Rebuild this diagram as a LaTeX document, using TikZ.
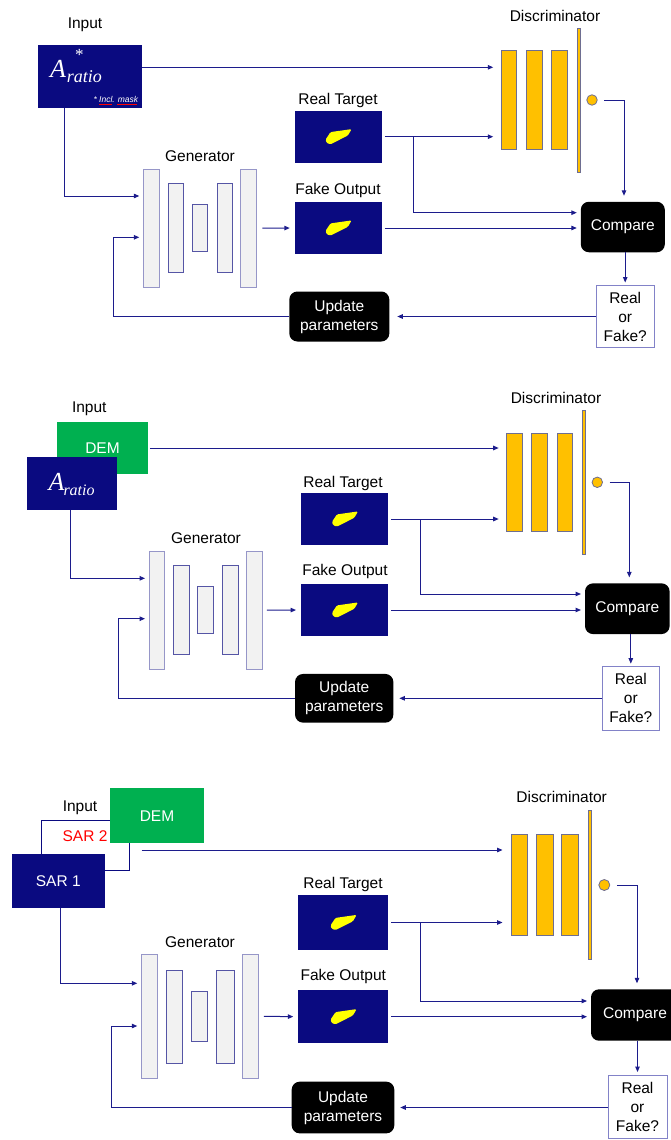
\documentclass[tikz,border=0pt]{standalone}
\usepackage{fontspec}
\setmainfont{Liberation Sans}
\newfontfamily\timesf{Liberation Serif}
\usetikzlibrary{arrows.meta}

\definecolor{navy}{RGB}{10,10,128}
\definecolor{wire}{RGB}{28,28,140}
\definecolor{demgreen}{RGB}{0,176,80}
\definecolor{amber}{RGB}{255,192,0}
\definecolor{amberline}{RGB}{110,110,145}
\definecolor{barfill}{RGB}{242,242,242}
\definecolor{barline}{RGB}{150,150,200}
\definecolor{barlinedk}{RGB}{85,85,165}
\definecolor{rfline}{RGB}{130,130,200}
\definecolor{blobc}{RGB}{255,255,0}

\newcommand\lblfont{\fontsize{15.5}{19}\selectfont}
% yellow target shape drawn inside an image tile
\newcommand\gblob[1]{\fill[blobc, rounded corners=1.2pt, shift={(#1.center)}]
  (-12.7,2.8) -- (-7.8,-4.6) -- (13.3,-7.6) -- (9.6,-1.2) -- (-7.8,7.6) -- (-11.7,6.2) -- cycle;}

\tikzset{
  box/.style={inner sep=0pt, outer sep=0pt},
  lbl/.style={inner sep=0pt, font=\lblfont},
  navybox/.style={box, fill=navy, text=white, font=\lblfont},
  demstyle/.style={box, fill=demgreen, text=white, font=\lblfont},
  img/.style={box, fill=navy},
  genout/.style={box, fill=barfill, draw=barline, line width=1pt},
  genin/.style={box, fill=barfill, draw=barlinedk, line width=0.8pt},
  disc/.style={box, fill=amber, draw=amberline, line width=0.8pt},
  blackbox/.style={box, fill=black, rounded corners=8pt, text=white, align=center, font=\lblfont},
  rfbox/.style={box, fill=white, draw=rfline, line width=0.8pt, align=center, font=\lblfont},
  bigA/.style={inner sep=0pt, anchor=base west, text=white, font=\timesf\itshape\fontsize{26}{26}\selectfont},
  subr/.style={inner sep=0pt, anchor=base west, text=white, font=\timesf\itshape\fontsize{#1}{#1}\selectfont},
  arr/.style={draw=wire, line width=1pt, -{Triangle[length=5.5pt,width=4.5pt]}, shorten >=4pt},
}

\begin{document}
\begin{tikzpicture}[x=1pt,y=-1pt]
\useasboundingbox (0,0) rectangle (671,1140);
\fill[white] (0,0) rectangle (671,1140);
\clip (0,0) rectangle (671,1140);

%% ---------------- First network: ratio input ----------------
\node[lbl] (in1lbl) at (85,25) {Input};
\node[navybox, minimum width=104pt, minimum height=63pt] (in1) at (90.3,76.5) {};
\node[bigA] (in1a) at (50,77.7) {A};
\node[inner sep=0pt, text=white, font=\timesf\fontsize{17}{17}\selectfont] (in1s) at (79.3,55) {*};
\node[subr=18] (in1r) at (66.7,82.7) {ratio};
\node[inner sep=0pt, anchor=base west, text=white, font=\fontsize{8.5}{10}\selectfont\itshape] (in1m) at (93.3,102) {* Incl. mask};
\draw[red, line width=0.6pt] (99,104.5) -- (112,104.5) (117,104.5) -- (137,104.5);

\node[lbl] (gen1lbl) at (200,156) {Generator};
\node[genout, minimum width=16pt, minimum height=118pt] (g1a) at (151.3,228.2) {};
\node[genin, minimum width=15pt, minimum height=89pt] (g1b) at (175.8,228) {};
\node[genin, minimum width=15pt, minimum height=47pt] (g1c) at (200,227.8) {};
\node[genin, minimum width=15pt, minimum height=89pt] (g1d) at (224.5,228) {};
\node[genout, minimum width=16pt, minimum height=118pt] (g1e) at (248.3,228.2) {};

\node[lbl] (rt1lbl) at (338,100) {Real Target};
\node[img, minimum width=87pt, minimum height=52pt] (r1) at (338.3,136.7) {};
\gblob{r1}
\node[lbl] (fo1lbl) at (338,190) {Fake Output};
\node[img, minimum width=87pt, minimum height=52pt] (f1) at (338.3,228) {};
\gblob{f1}

\node[lbl] (dis1lbl) at (555,16) {Discriminator};
\node[disc, minimum width=15.5pt, minimum height=98.5pt] (d1a) at (509,100) {};
\node[disc, minimum width=15.5pt, minimum height=98.5pt] (d1b) at (534.3,100) {};
\node[disc, minimum width=16pt, minimum height=98.5pt] (d1c) at (559.5,100) {};
\node[disc, minimum width=3pt, minimum height=144pt] (d1t) at (578.5,100.3) {};
\node[disc, circle, minimum size=10.5pt] (o1) at (592,100) {};

\node[blackbox, minimum width=84pt, minimum height=50.5pt] (c1) at (622.8,227) {Compare};
\node[rfbox, minimum width=58pt, minimum height=62pt] (q1) at (625.2,316.5) {Real\\or\\Fake?};
\node[blackbox, minimum width=100pt, minimum height=50pt] (u1) at (339.3,316.5) {Update\\parameters};

\draw[arr, shorten >=8pt] (in1.east |- 0,67.3) -- (d1a.west |- 0,67.3);
\coordinate (k1) at (64.3,196);
\draw[arr] (in1.south -| k1) -- (k1) -- (g1a.west |- k1);
\draw[arr, shorten >=8pt] ([xshift=3pt]r1.east) -- (d1a.west |- r1.east);
\coordinate (b1) at (413,212.7);
\draw[arr] (b1 |- r1.east) -- (b1) -- (c1.west |- b1);
\draw[arr] ([xshift=3pt]f1.east) -- (c1.west |- f1.east);
\draw[arr, shorten >=5pt] ([xshift=6pt]g1e.east) -- (f1.west);
\coordinate (t1) at (624,100);
\draw[arr, shorten >=6pt] ([xshift=7pt]o1.east) -- (t1) -- (t1 |- c1.north);
\draw[arr, shorten >=3pt] (c1.south -| q1.north) -- (q1.north);
\draw[arr, shorten >=8pt] (q1.west) -- (u1.east);
\coordinate (p1) at (113.3,237.3);
\draw[arr] (u1.west) -| (p1) -- (g1a.west |- p1);

%% ---------------- Second network: DEM + ratio ----------------
\node[lbl] (in2lbl) at (89.3,408.3) {Input};
\node[demstyle, minimum width=90.5pt, minimum height=52.5pt] (dem2) at (102.5,448) {DEM};
\node[navybox, minimum width=90.5pt, minimum height=53pt] (in2) at (72,483.5) {};
\node[bigA] (in2a) at (48.3,490) {A};
\node[subr=16] (in2r) at (63.3,495.7) {ratio};

\node[lbl] (gen2lbl) at (206,538.3) {Generator};
\node[genout, minimum width=15.3pt, minimum height=118.3pt] (g2a) at (156.7,610.2) {};
\node[genin, minimum width=16pt, minimum height=89.4pt] (g2b) at (181.3,610) {};
\node[genin, minimum width=16pt, minimum height=46.6pt] (g2c) at (205.3,610) {};
\node[genin, minimum width=15.7pt, minimum height=89.4pt] (g2d) at (230.2,610) {};
\node[genout, minimum width=15.6pt, minimum height=118.3pt] (g2e) at (254.5,610.2) {};

\node[lbl] (rt2lbl) at (343,483) {Real Target};
\node[img, minimum width=87.3pt, minimum height=52pt] (r2) at (344.7,519) {};
\gblob{r2}
\node[lbl] (fo2lbl) at (345,571.7) {Fake Output};
\node[img, minimum width=87.3pt, minimum height=52pt] (f2) at (344.7,610) {};
\gblob{f2}

\node[lbl] (dis2lbl) at (556,398.3) {Discriminator};
\node[disc, minimum width=16pt, minimum height=98pt] (d2a) at (514.7,482.3) {};
\node[disc, minimum width=16pt, minimum height=98pt] (d2b) at (539.7,482.3) {};
\node[disc, minimum width=15.4pt, minimum height=98pt] (d2c) at (565,482.3) {};
\node[disc, minimum width=3.3pt, minimum height=143.3pt] (d2t) at (583.7,482.3) {};
\node[disc, circle, minimum size=10.5pt] (o2) at (597.3,482.3) {};

\node[blackbox, minimum width=84.6pt, minimum height=50.7pt] (c2) at (627.3,608.7) {Compare};
\node[rfbox, minimum width=57pt, minimum height=63.3pt] (q2) at (630.8,698.3) {Real\\or\\Fake?};
\node[blackbox, minimum width=98.3pt, minimum height=48.7pt] (u2) at (344.2,698.3) {Update\\parameters};

\draw[arr, shorten >=8pt] ([xshift=2pt]dem2.east) -- (d2a.west |- dem2.east);
\coordinate (k2) at (70,578.3);
\draw[arr] (in2.south -| k2) -- (k2) -- (g2a.west |- k2);
\draw[arr, shorten >=8pt] ([xshift=3pt]r2.east) -- (d2a.west |- r2.east);
\coordinate (b2) at (420,594);
\draw[arr] (b2 |- r2.east) -- (b2) -- (c2.west |- b2);
\draw[arr] ([xshift=3pt]f2.east) -- (c2.west |- f2.east);
\draw[arr, shorten >=5pt] ([xshift=4.5pt]g2e.east) -- (f2.west);
\coordinate (t2) at (629.3,482.3);
\draw[arr, shorten >=6pt] ([xshift=7pt]o2.east) -- (t2) -- (t2 |- c2.north);
\draw[arr, shorten >=3pt] (c2.south -| q2.north) -- (q2.north);
\draw[arr, shorten >=6pt] (q2.west) -- (u2.east);
\coordinate (p2) at (118.3,618.7);
\draw[arr] (u2.west) -| (p2) -- (g2a.west |- p2);

%% ---------------- Third network: DEM + two SAR images ----------------
\node[lbl] (in3lbl) at (80,807.3) {Input};
\node[box, fill=white, draw=navy, line width=1pt, minimum width=88.3pt, minimum height=50.3pt] (s2) at (85.8,845.8) {};
\node[lbl, text=red] (s2txt) at (85,836) {SAR 2};
\node[demstyle, minimum width=94pt, minimum height=55pt] (dem3) at (157,815.8) {DEM};
\node[navybox, minimum width=93.3pt, minimum height=54pt] (s1) at (58.3,881.3) {SAR 1};

\node[lbl] (gen3lbl) at (200,941.7) {Generator};
\node[genout, minimum width=16.4pt, minimum height=124pt] (g3a) at (149.5,1016.3) {};
\node[genin, minimum width=16pt, minimum height=93.3pt] (g3b) at (174.7,1016.7) {};
\node[genin, minimum width=16pt, minimum height=49.3pt] (g3c) at (199.7,1016.3) {};
\node[genin, minimum width=17.3pt, minimum height=93.3pt] (g3d) at (225.3,1016.7) {};
\node[genout, minimum width=16.3pt, minimum height=124pt] (g3e) at (250.8,1016.3) {};

\node[lbl] (rt3lbl) at (343,884) {Real Target};
\node[img, minimum width=90pt, minimum height=55pt] (r3) at (343.3,922.5) {};
\gblob{r3}
\node[lbl] (fo3lbl) at (343.3,976.7) {Fake Output};
\node[img, minimum width=90pt, minimum height=53.3pt] (f3) at (343.3,1016.7) {};
\gblob{f3}

\node[lbl] (dis3lbl) at (561.7,797.3) {Discriminator};
\node[disc, minimum width=16.3pt, minimum height=101.7pt] (d3a) at (519.2,884.8) {};
\node[disc, minimum width=17.3pt, minimum height=101.7pt] (d3b) at (544.7,884.8) {};
\node[disc, minimum width=16.6pt, minimum height=101.7pt] (d3c) at (570,884.8) {};
\node[disc, minimum width=3pt, minimum height=149pt] (d3t) at (589.8,884.5) {};
\node[disc, circle, minimum size=11pt] (o3) at (604.3,885) {};

\node[blackbox, minimum width=88pt, minimum height=51.4pt] (c3) at (635,1015) {Compare};
\node[rfbox, minimum width=59pt, minimum height=63pt] (q3) at (637.5,1106.5) {Real\\or\\Fake?};
\node[blackbox, minimum width=102.6pt, minimum height=51.7pt] (u3) at (343,1107.5) {Update\\parameters};

\coordinate (s3) at (141.7,850);
\draw[arr, shorten >=8.5pt] (s3) -- (d3a.west |- s3);
\coordinate (k3) at (60.7,983.3);
\draw[arr] (s1.south -| k3) -- (k3) -- (g3a.west |- k3);
\draw[arr, shorten >=8.5pt] ([xshift=3pt]r3.east) -- (d3a.west |- r3.east);
\coordinate (b3) at (420.7,1001);
\draw[arr] (b3 |- r3.east) -- (b3) -- (c3.west |- b3);
\draw[arr] ([xshift=3pt]f3.east) -- (c3.west |- f3.east);
\draw[arr, shorten >=5pt] ([xshift=5pt]g3e.east) -- (f3.west);
\coordinate (t3) at (637,885);
\draw[arr, shorten >=6pt] ([xshift=7pt]o3.east) -- (t3) -- (t3 |- c3.north);
\draw[arr, shorten >=3pt] (c3.south -| q3.north) -- (q3.north);
\draw[arr, shorten >=6pt] (q3.west |- u3.east) -- (u3.east);
\coordinate (p3) at (111,1026);
\draw[arr] (u3.west) -| (p3) -- (g3a.west |- p3);
\end{tikzpicture}
\end{document}
